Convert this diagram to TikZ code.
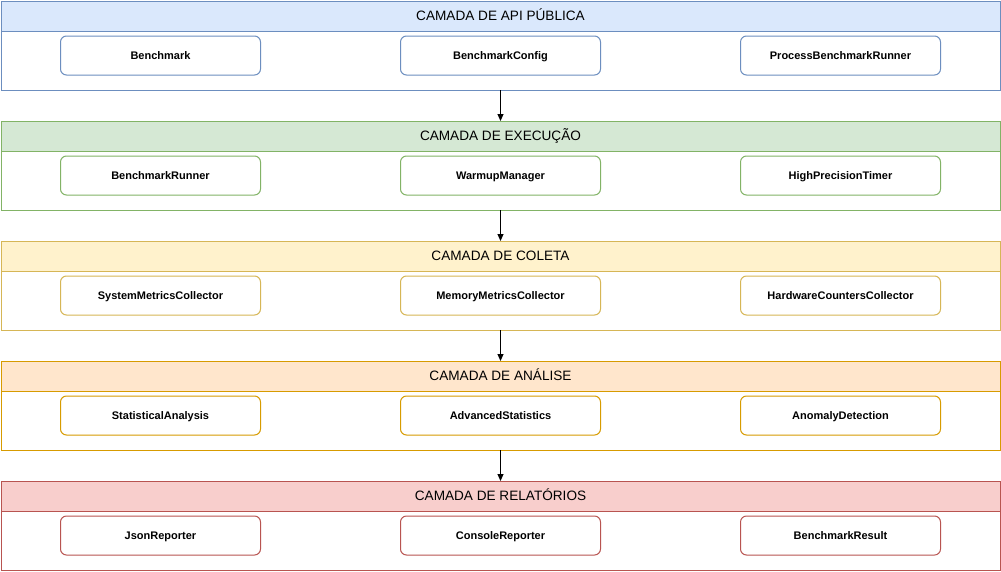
\documentclass[tikz,border=0pt]{standalone}
\usepackage{fontspec}
\setmainfont{Liberation Sans}
\usepackage{tikz}
\usepackage{xcolor}
\usetikzlibrary{arrows.meta, positioning}

\definecolor{apifill}{HTML}{DAE8FC}
\definecolor{apiline}{HTML}{6C8EBF}
\definecolor{execfill}{HTML}{D5E8D4}
\definecolor{execline}{HTML}{82B366}
\definecolor{colfill}{HTML}{FFF2CC}
\definecolor{colline}{HTML}{D6B656}
\definecolor{anafill}{HTML}{FFE6CC}
\definecolor{analine}{HTML}{D79B00}
\definecolor{repfill}{HTML}{F8CECC}
\definecolor{repline}{HTML}{B85450}

\tikzset{
  layerbody/.style={rectangle, minimum width=999pt, minimum height=89pt, inner sep=0pt, outer sep=0pt, fill=white, line width=1pt},
  layerhead/.style={rectangle, minimum width=999pt, minimum height=30pt, inner sep=0pt, outer sep=0pt, line width=1pt, text height=9.8pt, text depth=0pt, font=\fontsize{13.6}{15}\selectfont},
  compbox/.style={rectangle, rounded corners=6pt, minimum width=200pt, minimum height=39pt, inner sep=0pt, outer sep=0pt, fill=white, line width=1pt, text height=7.9pt, text depth=0pt, font=\fontsize{11}{13}\selectfont\bfseries},
  flow/.style={-{Triangle[length=7pt, width=6pt]}, line width=1pt}
}

\begin{document}
\begin{tikzpicture}[x=1pt, y=-1pt]
\useasboundingbox (0,0) rectangle (1001,571);

% API publica
\node[layerbody, draw=apiline] (apibody) at (500.5,45.5) {};
\node[layerhead, fill=apifill, draw=apiline] (apihead) at (500.5,16) {CAMADA DE API PÚBLICA};
\node[compbox, draw=apiline] (benchmark) at (160.5,55.5) {Benchmark};
\node[compbox, draw=apiline] (benchcfg) at (500.5,55.5) {BenchmarkConfig};
\node[compbox, draw=apiline] (procrunner) at (840.5,55.5) {ProcessBenchmarkRunner};

% Execucao
\node[layerbody, draw=execline] (execbody) at (500.5,165.5) {};
\node[layerhead, fill=execfill, draw=execline] (exechead) at (500.5,136) {CAMADA DE EXECUÇÃO};
\node[compbox, draw=execline] (runner) at (160.5,175.5) {BenchmarkRunner};
\node[compbox, draw=execline] (warmup) at (500.5,175.5) {WarmupManager};
\node[compbox, draw=execline] (timer) at (840.5,175.5) {HighPrecisionTimer};

% Coleta
\node[layerbody, draw=colline] (colbody) at (500.5,285.5) {};
\node[layerhead, fill=colfill, draw=colline] (colhead) at (500.5,256) {CAMADA DE COLETA};
\node[compbox, draw=colline] (sysmetrics) at (160.5,295.5) {SystemMetricsCollector};
\node[compbox, draw=colline] (memmetrics) at (500.5,295.5) {MemoryMetricsCollector};
\node[compbox, draw=colline] (hwcounters) at (840.5,295.5) {HardwareCountersCollector};

% Analise
\node[layerbody, draw=analine] (anabody) at (500.5,405.5) {};
\node[layerhead, fill=anafill, draw=analine] (anahead) at (500.5,376) {CAMADA DE ANÁLISE};
\node[compbox, draw=analine] (statanalysis) at (160.5,415.5) {StatisticalAnalysis};
\node[compbox, draw=analine] (advstats) at (500.5,415.5) {AdvancedStatistics};
\node[compbox, draw=analine] (anomaly) at (840.5,415.5) {AnomalyDetection};

% Relatorios
\node[layerbody, draw=repline] (repbody) at (500.5,525.5) {};
\node[layerhead, fill=repfill, draw=repline] (rephead) at (500.5,496) {CAMADA DE RELATÓRIOS};
\node[compbox, draw=repline] (json) at (160.5,535.5) {JsonReporter};
\node[compbox, draw=repline] (console) at (500.5,535.5) {ConsoleReporter};
\node[compbox, draw=repline] (result) at (840.5,535.5) {BenchmarkResult};

% Fluxo entre camadas
\draw[flow] (apibody.south) -- (exechead.north);
\draw[flow] (execbody.south) -- (colhead.north);
\draw[flow] (colbody.south) -- (anahead.north);
\draw[flow] (anabody.south) -- (rephead.north);
\end{tikzpicture}
\end{document}
